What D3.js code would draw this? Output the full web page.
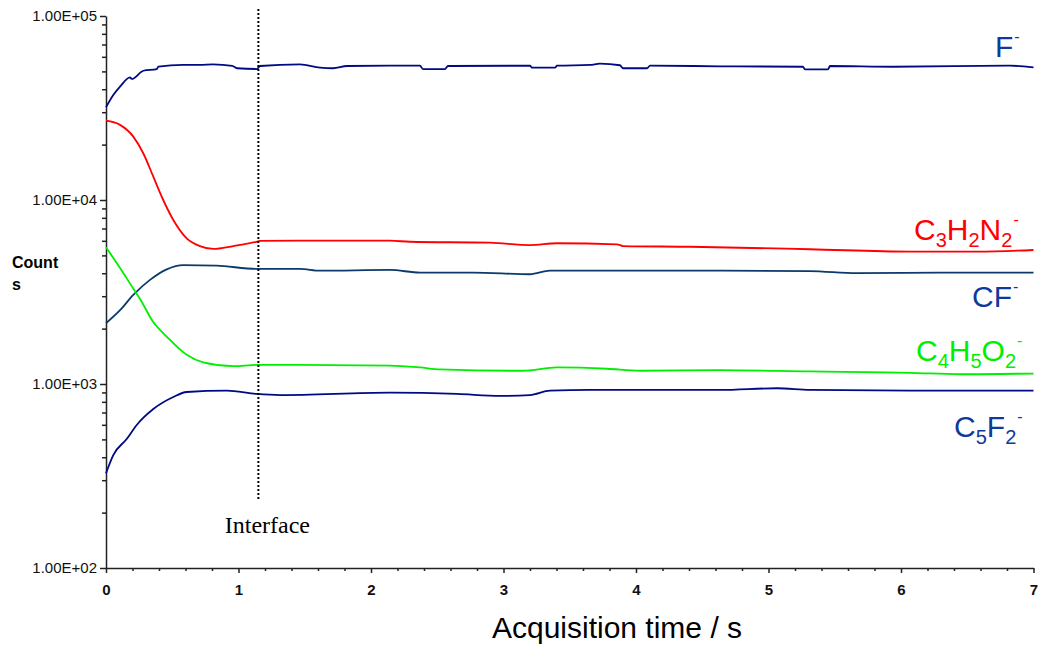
<!DOCTYPE html>
<html lang="en">
<head>
<meta charset="UTF-8">
<title>Counts vs acquisition time</title>
<script src="https://cdn.jsdelivr.net/npm/d3@7"></script>
<style>
body { margin: 0; background: #fff; }
.axis path, .axis line { fill: none; stroke: #222; stroke-width: 1.5; }
.axis text { font-family: "Liberation Sans", Arial, sans-serif; fill: #111; }
.trace { fill: none; stroke-width: 1.8; stroke-linejoin: round; }
.lbl { font-family: "Liberation Sans", Arial, sans-serif; font-size: 30px; }
</style>
</head>
<body>
<script>
// values (time in s, counts)
var fTime = [0, 0.055, 0.106, 0.181, 0.194, 0.282, 0.383, 0.395, 0.581, 0.709, 0.808, 0.953, 0.989, 1.14, 1.162, 1.464, 1.615, 1.713, 1.819, 2.143, 2.37, 2.392, 2.558, 2.581, 3.2, 3.215, 3.389, 3.404, 3.653, 3.728, 3.879, 3.902, 4.083, 4.106, 4.634, 5.26, 5.275, 5.449, 5.464, 5.94, 6.823, 7.0];
var fCounts = [31900, 37200, 41300, 46400, 45500, 50400, 51500, 53000, 54200, 54200, 54600, 53500, 52000, 51500, 53500, 54600, 52400, 52000, 53500, 53700, 53700, 51500, 51500, 53500, 53700, 52400, 52400, 53700, 54200, 55100, 54000, 52000, 52000, 53700, 53300, 53000, 51300, 51300, 53500, 53000, 53700, 52600];

var c3h2n2Time = [0, 0.106, 0.206, 0.282, 0.357, 0.432, 0.508, 0.609, 0.709, 0.81, 0.961, 1.137, 1.162, 1.464, 2.143, 2.294, 2.898, 3.2, 3.404, 3.857, 3.902, 4.408, 5.313, 6.068, 6.574, 7.0];
var c3h2n2Counts = [27000, 25600, 22100, 17900, 13400, 10000, 7790, 6190, 5620, 5420, 5620, 5930, 5990, 6010, 6010, 5930, 5860, 5690, 5820, 5740, 5620, 5570, 5400, 5240, 5240, 5350];

var cfTime = [0, 0.106, 0.206, 0.332, 0.458, 0.583, 0.835, 1.137, 1.464, 1.615, 2.143, 2.37, 2.77, 3.2, 3.351, 3.653, 4.634, 5.313, 5.668, 6.317, 7.0];
var cfCounts = [2140, 2520, 3050, 3680, 4200, 4430, 4400, 4220, 4220, 4130, 4170, 4030, 4030, 3950, 4130, 4130, 4130, 4110, 4000, 4030, 4030];

var c4h5o2Time = [0, 0.106, 0.206, 0.257, 0.357, 0.458, 0.609, 0.734, 0.961, 1.137, 1.464, 2.143, 2.37, 2.521, 3.147, 3.404, 3.781, 4.03, 4.634, 5.313, 6.068, 6.445, 7.0];
var c4h5o2Counts = [5530, 4270, 3300, 2900, 2170, 1810, 1440, 1310, 1250, 1270, 1270, 1260, 1230, 1200, 1180, 1230, 1210, 1180, 1190, 1170, 1150, 1130, 1140];

var c5f2Time = [0, 0.055, 0.156, 0.232, 0.357, 0.508, 0.609, 0.911, 1.137, 1.313, 2.143, 2.649, 2.974, 3.2, 3.351, 3.653, 4.634, 5.064, 5.313, 6.068, 7.0];
var c5f2Counts = [327, 411, 502, 599, 731, 850, 905, 920, 883, 871, 897, 883, 861, 871, 920, 928, 928, 948, 928, 920, 920];

var xTicks = [0, 1, 2, 3, 4, 5, 6, 7];
var yTicks = [100, 1000, 10000, 100000];
var yTickLabels = ['1.00E+02', '1.00E+03', '1.00E+04', '1.00E+05'];
var interfaceTime = 1.15;

var width = 1042, height = 648;
var svg = d3.select('body').append('svg').attr('width', width).attr('height', height);

var x = d3.scaleLinear().domain([0, 7]).range([106, 1033.5]);
var y = d3.scaleLog().domain([100, 100000]).range([568, 16]);

// minor ticks
var yMinor = [];
yTicks.slice(0, 3).forEach(function(d) { for (var k = 2; k < 10; k++) yMinor.push(d * k); });
var xMinor = d3.range(0, 35).map(function(i) { return i * 0.2; }).filter(function(v) { return Math.abs(v - Math.round(v)) > 1e-6; });

svg.append('g').attr('class', 'axis').attr('transform', 'translate(106,0)')
  .call(d3.axisLeft(y).tickValues(yMinor).tickSize(4).tickFormat(''))
  .select('.domain').remove();
svg.append('g').attr('class', 'axis').attr('transform', 'translate(0,568)')
  .call(d3.axisBottom(x).tickValues(xMinor).tickSize(3).tickFormat(''))
  .select('.domain').remove();

var yAxis = svg.append('g').attr('class', 'axis').attr('transform', 'translate(106,0)')
  .call(d3.axisLeft(y).tickValues(yTicks).tickSize(6).tickPadding(3).tickSizeOuter(0)
    .tickFormat(function(d, i) { return yTickLabels[i]; }));
yAxis.selectAll('text').style('font-size', '15px');

var xAxis = svg.append('g').attr('class', 'axis').attr('transform', 'translate(0,568)')
  .call(d3.axisBottom(x).tickValues(xTicks).tickSize(5).tickPadding(11).tickSizeOuter(0).tickFormat(d3.format('d')));
xAxis.selectAll('text').style('font-size', '15px').style('font-weight', 'bold');

// traces
var series = [
  {t: fTime, v: fCounts, color: '#000a82'},
  {t: c3h2n2Time, v: c3h2n2Counts, color: '#ff0000'},
  {t: cfTime, v: cfCounts, color: '#0b3a6b'},
  {t: c4h5o2Time, v: c4h5o2Counts, color: '#00ee00'},
  {t: c5f2Time, v: c5f2Counts, color: '#000a82'}
];
var line = d3.line().curve(d3.curveMonotoneX)
  .x(function(d) { return x(d[0]); }).y(function(d) { return y(d[1]); });
series.forEach(function(s) {
  svg.append('path').attr('class', 'trace').attr('stroke', s.color)
    .attr('d', line(d3.zip(s.t, s.v)));
});

// interface marker
svg.append('line')
  .attr('x1', x(interfaceTime)).attr('x2', x(interfaceTime))
  .attr('y1', 9).attr('y2', 500)
  .attr('stroke', '#000').attr('stroke-width', 2).attr('stroke-dasharray', '2,2');
svg.append('text').attr('x', x(interfaceTime) + 9).attr('y', 533)
  .attr('text-anchor', 'middle')
  .style('font-family', '"Liberation Serif", "Times New Roman", serif').style('font-size', '24px')
  .text('Interface');

// ion labels: parts as [text, 'n'|'sub'|'sup']
var labels = [
  {x: 995, y: 57, color: '#0d3b9b', parts: [['F', 'n'], ['-', 'sup']]},
  {x: 914, y: 240, color: '#ff0000', parts: [['C', 'n'], ['3', 'sub'], ['H', 'n'], ['2', 'sub'], ['N', 'n'], ['2', 'sub'], ['-', 'sup']]},
  {x: 972, y: 307, color: '#0d3b9b', parts: [['CF', 'n'], ['-', 'sup']]},
  {x: 916, y: 361, color: '#00ee00', parts: [['C', 'n'], ['4', 'sub'], ['H', 'n'], ['5', 'sub'], ['O', 'n'], ['2', 'sub'], ['-', 'sup']]},
  {x: 954, y: 437, color: '#0d3b9b', parts: [['C', 'n'], ['5', 'sub'], ['F', 'n'], ['2', 'sub'], ['-', 'sup']]}
];
labels.forEach(function(l) {
  var t = svg.append('text').attr('class', 'lbl').attr('x', l.x).attr('y', l.y).attr('fill', l.color);
  var shift = 0;
  l.parts.forEach(function(p) {
    var target = p[1] === 'sub' ? 7 : (p[1] === 'sup' ? -15 : 0);
    var ts = t.append('tspan').attr('dy', target - shift).text(p[0]);
    if (p[1] === 'sub') ts.style('font-size', '20px');
    if (p[1] === 'sup') ts.style('font-size', '16px').attr('dx', 1);
    shift = target;
  });
});

// y title (wrapped like the original)
svg.append('text').attr('x', 12).attr('y', 268)
  .style('font-family', '"Liberation Sans", Arial, sans-serif').style('font-size', '16px').style('font-weight', 'bold')
  .text('Count');
svg.append('text').attr('x', 12).attr('y', 290)
  .style('font-family', '"Liberation Sans", Arial, sans-serif').style('font-size', '16px').style('font-weight', 'bold')
  .text('s');

// x title
svg.append('text').attr('x', 617).attr('y', 638).attr('text-anchor', 'middle')
  .style('font-family', '"Liberation Sans", Arial, sans-serif').style('font-size', '30px')
  .text('Acquisition time / s');
</script>
</body>
</html>
